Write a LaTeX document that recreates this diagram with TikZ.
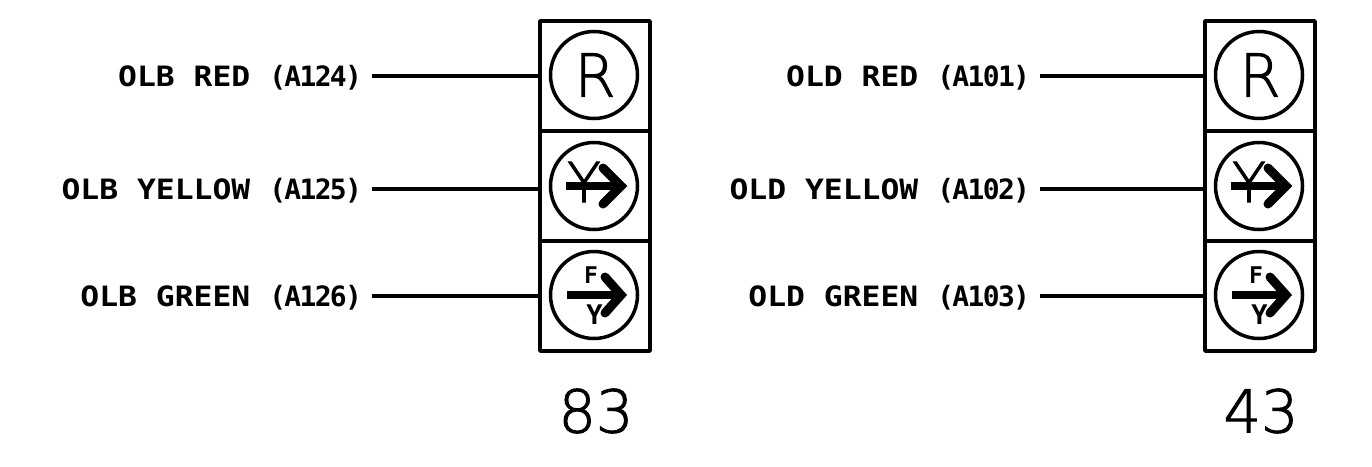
\documentclass[tikz,border=0pt]{standalone}
\usepackage{fontspec}
\newfontfamily\labfont{DejaVu Sans Mono}
\newfontfamily\wordfont[FakeStretch=1.12]{DejaVu Sans Mono Bold}
\newfontfamily\thinfont[FakeBold=1.7]{DejaVu Sans ExtraLight}
\newcommand{\lab}[2]{{\wordfont #1 }{\addfontfeature{LetterSpace=-6}#2}}
\tikzset{
  cell/.style={draw,line width=3.5pt,line join=round,minimum width=110pt,minimum height=110pt,outer sep=0pt,inner sep=0pt},
  lamp/.style={draw,circle,line width=3.5pt,minimum size=87pt,outer sep=0pt,inner sep=0pt},
  wire/.style={line width=3.2pt},
  label/.style={anchor=east,inner sep=0pt,inner xsep=10pt,outer sep=0pt,text height=20.4pt,text depth=0pt,font=\labfont\bfseries\fontsize{28}{30}\selectfont},
  bigtxt/.style={inner sep=0pt,font=\thinfont\fontsize{59}{61}\selectfont},
  rtxt/.style={inner sep=0pt,font=\thinfont\fontsize{59}{61}\selectfont},
  ytxt/.style={inner sep=0pt,font=\thinfont\fontsize{55}{57}\selectfont},
  smalltxt/.style={inner sep=0pt,font=\labfont\bfseries\fontsize{27}{29}\selectfont},
  ftxt/.style={inner sep=0pt,font=\labfont\bfseries\fontsize{23}{25}\selectfont},
  shaft/.style={line width=8pt},
  head/.style={line width=9pt,line cap=round,line join=miter},
}
\newcommand{\signalgroup}[7]{%
  % #1 prefix, #2 centre x, #3 number, #4-#6 labels, #7 wire start x
  \node[cell] (#1a) at (#2,76) {};
  \node[cell] (#1b) at (#2,186) {};
  \node[cell] (#1c) at (#2,296) {};
  \node[lamp] (#1la) at (#2-1,75) {};
  \node[lamp] (#1lb) at (#2-1,186) {};
  \node[lamp] (#1lc) at (#2-1,295) {};
  \node[rtxt] (#1r) at (#2,75) {R};
  \node[ytxt] (#1yy) at (#2-11,182) {Y};
  \draw[shaft] (#2-29,186) -- (#2+24,186);
  \draw[head] (#2+8,168) -- (#2+26,186) -- (#2+8,204);
  \node[ftxt] (#1f) at (#2-4,275) {F};
  \node[smalltxt] (#1y) at (#2-0.5,315) {Y};
  \draw[shaft] (#2-28,295) -- (#2+24,295);
  \draw[head] (#2+10,277) -- (#2+26,295) -- (#2+10,313);
  \node[label] (#1t1) at (#7,76) {\lab #4};
  \node[label] (#1t2) at (#7,189) {\lab #5};
  \node[label] (#1t3) at (#7,296) {\lab #6};
  \draw[wire] (#1t1.east) -- (#1t1.east -| #1a.west);
  \draw[wire] (#1t2.east) -- (#1t2.east -| #1b.west);
  \draw[wire] (#1t3.east) -- (#1t3.east -| #1c.west);
  \node[bigtxt] (#1n) at (#2+1,411) {#3};
}
\begin{document}
\begin{tikzpicture}[x=1pt,y=-1pt]
\useasboundingbox (0,0) rectangle (1372,466);
\signalgroup{p}{595}{83}{{OLB RED}{(A124)}}{{OLB YELLOW}{(A125)}}{{OLB GREEN}{(A126)}}{372}
\signalgroup{q}{1260}{43}{{OLD RED}{(A101)}}{{OLD YELLOW}{(A102)}}{{OLD GREEN}{(A103)}}{1040}
\end{tikzpicture}
\end{document}
